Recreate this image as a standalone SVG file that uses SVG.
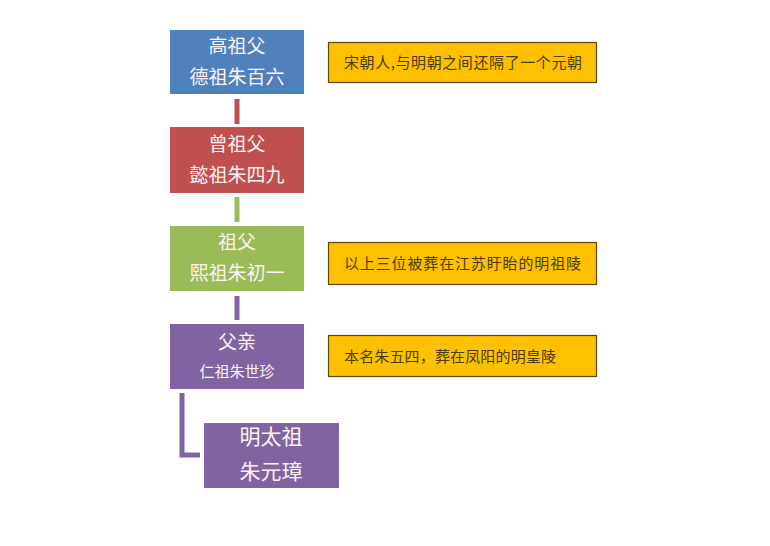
<svg xmlns="http://www.w3.org/2000/svg" width="770" height="546" viewBox="0 0 770 546">
<style>
.nt{font-family:"Noto Sans CJK SC","Noto Sans CJK TC",sans-serif;fill:#fdf3f3;text-anchor:middle;font-size:19px}
.nt2{font-size:15px}
.nt3{font-size:21px}
.note rect{fill:#FFC000;stroke:#5e4b00;stroke-width:1.2}
.note text{font-family:"Noto Sans CJK SC","Noto Sans CJK TC",sans-serif;font-size:15px;fill:#4d3c00}
.conn{stroke-width:5;fill:none}
</style>
<rect width="770" height="546" fill="#ffffff"/>
<g id="connectors">
<line class="conn" x1="237" y1="99" x2="237" y2="124" stroke="#C0504D"/>
<line class="conn" x1="237" y1="197" x2="237" y2="222" stroke="#9BBB59"/>
<line class="conn" x1="237" y1="296" x2="237" y2="320" stroke="#8064A2"/>
<polyline class="conn" points="182,393 182,455 200,455" stroke="#8064A2" stroke-width="4"/>
</g>
<g id="node1">
<rect x="170" y="30" width="134" height="64" fill="#4F81BD"/>
<text class="nt" x="237" y="53">高祖父</text>
<text class="nt" x="237" y="84">德祖朱百六</text>
</g>
<g id="node2">
<rect x="170" y="127" width="134" height="66" fill="#C0504D"/>
<text class="nt" x="237" y="151">曾祖父</text>
<text class="nt" x="237" y="182">懿祖朱四九</text>
</g>
<g id="node3">
<rect x="170" y="226" width="134" height="65" fill="#9BBB59"/>
<text class="nt" x="237" y="249">祖父</text>
<text class="nt" x="237" y="280">熙祖朱初一</text>
</g>
<g id="node4">
<rect x="170" y="324" width="134" height="65" fill="#8064A2"/>
<text class="nt" x="237" y="349">父亲</text>
<text class="nt nt2" x="237" y="377">仁祖朱世珍</text>
</g>
<g id="node5">
<rect x="204" y="423" width="135" height="65" fill="#8064A2"/>
<text class="nt nt3" x="271" y="444">明太祖</text>
<text class="nt nt3" x="271" y="479">朱元璋</text>
</g>
<g id="noteA" class="note">
<rect x="328.5" y="42.5" width="268" height="40"/>
<text x="344" y="68" textLength="238" lengthAdjust="spacing">宋朝人,与明朝之间还隔了一个元朝</text>
</g>
<g id="noteB" class="note">
<rect x="328.5" y="242.5" width="268" height="42"/>
<text x="344" y="269" textLength="237" lengthAdjust="spacing">以上三位被葬在江苏盱眙的明祖陵</text>
</g>
<g id="noteC" class="note">
<rect x="328.5" y="335.5" width="268" height="41"/>
<text x="344" y="362" textLength="212" lengthAdjust="spacing">本名朱五四，葬在凤阳的明皇陵</text>
</g>
</svg>
